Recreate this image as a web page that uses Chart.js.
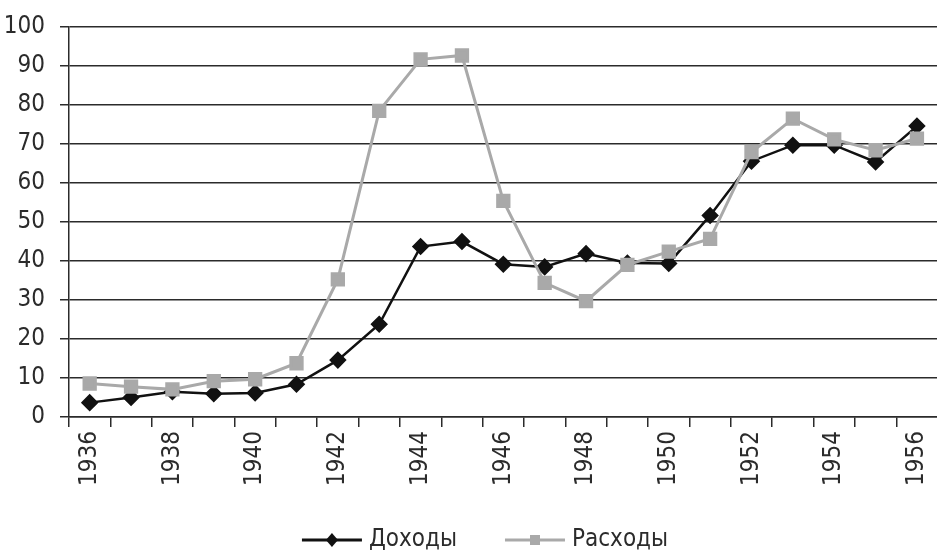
<!DOCTYPE html>
<html>
<head>
<meta charset="utf-8">
<script src="https://cdn.jsdelivr.net/npm/chart.js@4.4.1/dist/chart.umd.min.js"></script>
<style>
  html, body { margin: 0; padding: 0; background: #fff; overflow: hidden; }
  canvas { display: block; }
</style>
</head>
<body>
<canvas id="chart" width="950" height="553"></canvas>
<script>
const years = ["1936","1937","1938","1939","1940","1941","1942","1943","1944","1945","1946",
               "1947","1948","1949","1950","1951","1952","1953","1954","1955","1956"];
const income = [3.7, 5.0, 6.5, 6.0, 6.2, 8.4, 14.6, 23.8, 43.7, 45.0, 39.2,
                38.5, 41.9, 39.5, 39.4, 51.7, 65.6, 69.7, 69.7, 65.4, 74.6];
const spending = [8.6, 7.8, 7.1, 9.2, 9.7, 13.8, 35.3, 78.5, 91.7, 92.7, 55.4,
                  34.4, 29.7, 39.0, 42.4, 45.7, 67.9, 76.5, 71.2, 68.4, 71.4];
const yTicks = [0, 10, 20, 30, 40, 50, 60, 70, 80, 90, 100];

const FONT = "'DejaVu Sans Condensed', 'Liberation Sans Narrow', sans-serif";
const INK = "#2b2b2b";

// legend under the plot: line sample with its marker, then the name
const lineLegend = {
  id: "lineLegend",
  afterDraw(chart) {
    const ctx = chart.ctx;
    const items = chart.data.datasets.slice().reverse();
    const sampleW = 60, gapText = 7, gapItem = 48, y = 540;
    ctx.save();
    ctx.font = "24px " + FONT;
    const widths = items.map(ds => sampleW + gapText + ctx.measureText(ds.label).width);
    const total = widths.reduce((a, b) => a + b, 0) + gapItem * (items.length - 1);
    let x = 485 - total / 2;
    items.forEach((ds, i) => {
      ctx.strokeStyle = ds.borderColor;
      ctx.fillStyle = ds.borderColor;
      ctx.lineWidth = 3;
      ctx.beginPath(); ctx.moveTo(x, y); ctx.lineTo(x + sampleW, y); ctx.stroke();
      const cx = x + sampleW / 2;
      ctx.beginPath();
      if (ds.pointStyle === "rectRot") {
        ctx.moveTo(cx, y - 7); ctx.lineTo(cx + 6, y); ctx.lineTo(cx, y + 7); ctx.lineTo(cx - 6, y);
      } else {
        ctx.rect(cx - 5, y - 5, 10, 10);
      }
      ctx.closePath(); ctx.fill();
      ctx.fillStyle = INK;
      ctx.textBaseline = "middle";
      ctx.fillText(ds.label, x + sampleW + gapText, y);
      x += widths[i] + gapItem;
    });
    ctx.restore();
  }
};

new Chart(document.getElementById("chart"), {
  type: "line",
  data: {
    labels: years,
    datasets: [
      {
        label: "Расходы",
        data: spending,
        borderColor: "#a9a9a9",
        backgroundColor: "#a9a9a9",
        borderWidth: 3,
        pointStyle: "rect",
        pointRadius: 8,
        tension: 0
      },
      {
        label: "Доходы",
        data: income,
        borderColor: "#111",
        backgroundColor: "#111",
        borderWidth: 2.5,
        pointStyle: "rectRot",
        pointRadius: 7,
        tension: 0
      }
    ]
  },
  plugins: [lineLegend],
  options: {
    responsive: false,
    animation: false,
    layout: { padding: { left: 0, right: 4, top: 3, bottom: 63 } },
    plugins: {
      tooltip: { enabled: false },
      legend: { display: false }
    },
    scales: {
      x: {
        offset: true,
        grid: {
          offset: true,
          drawOnChartArea: false,
          drawTicks: true,
          tickLength: 10,
          color: INK,
          lineWidth: 1.5
        },
        border: { display: true, color: INK, width: 1.5 },
        ticks: {
          autoSkip: false,
          minRotation: 90,
          maxRotation: 90,
          padding: 4,
          color: INK,
          font: { family: FONT, size: 24 },
          callback: function (v, i) { return i % 2 === 0 ? years[i] : ""; }
        }
      },
      y: {
        min: 0,
        max: 100,
        afterBuildTicks: axis => { axis.ticks = yTicks.map(v => ({ value: v })); },
        afterFit: axis => { axis.width = 69; },
        grid: {
          color: INK,
          lineWidth: 1.5,
          tickLength: 9
        },
        border: { display: true, color: INK, width: 1.5 },
        ticks: {
          padding: 15,
          color: INK,
          font: { family: FONT, size: 24, lineHeight: 1 }
        }
      }
    }
  }
});
</script>
</body>
</html>
